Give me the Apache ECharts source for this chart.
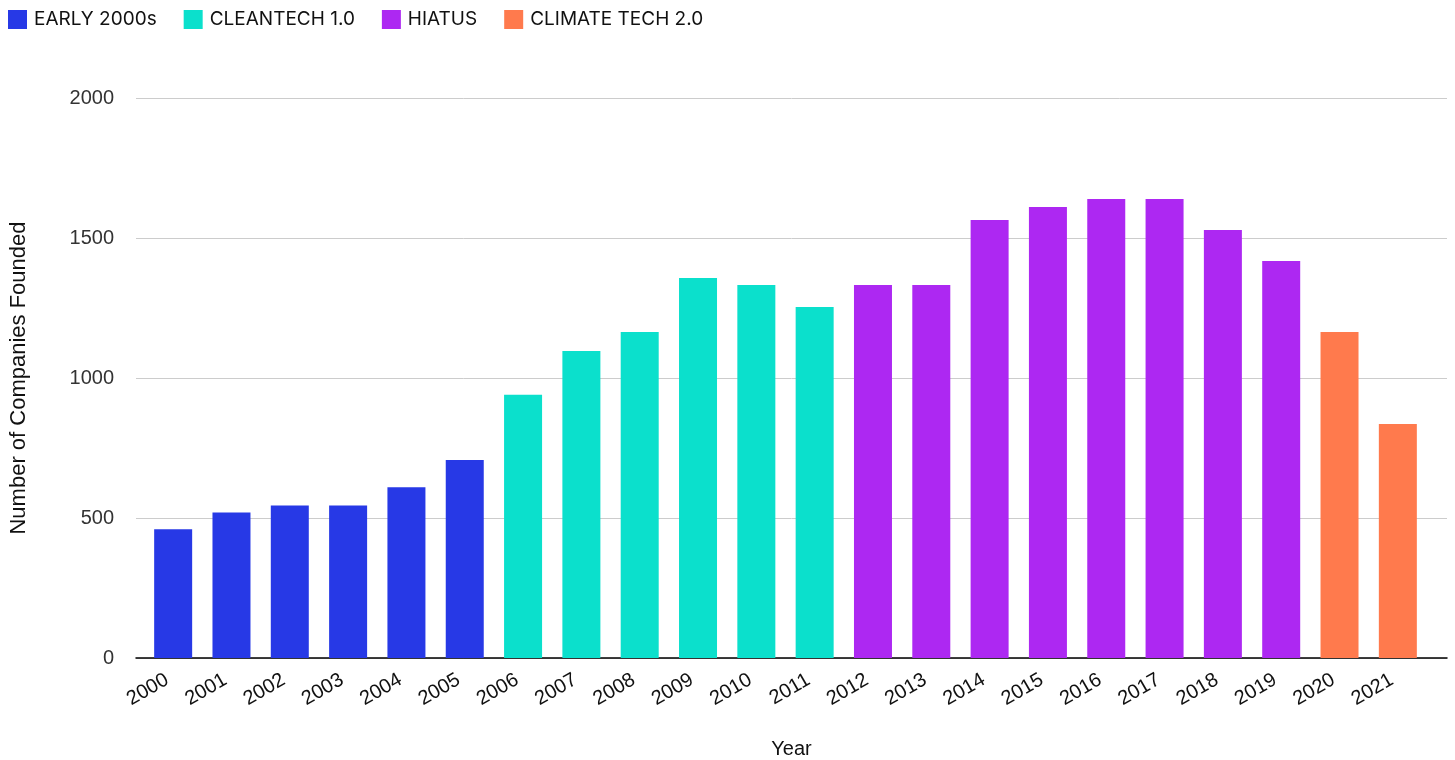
<!DOCTYPE html>
<html><head><meta charset="utf-8">
<script src="https://cdn.jsdelivr.net/npm/echarts@6/dist/echarts.min.js"></script>
<style>html,body{margin:0;padding:0;background:#fff}#c{width:1455px;height:760px}</style>
</head><body><div id="c"></div>
<script>
const years = ['2000','2001','2002','2003','2004','2005','2006','2007','2008','2009','2010','2011','2012','2013','2014','2015','2016','2017','2018','2019','2020','2021'];
const founded = [460,520,545,545,610,707,940,1096,1164,1357,1332,1254,1332,1332,1564,1611,1639,1639,1529,1418,1164,836];
const eraNames = ['EARLY 2000s','CLEANTECH 1.0','HIATUS','CLIMATE TECH 2.0'];
const eraOfYear = [0,0,0,0,0,0,1,1,1,1,1,1,2,2,2,2,2,2,2,2,3,3];
const eraColors = ['#2739E6','#0BE0CC','#AD28F2','#FF7A4D'];
const yTicks = [0,500,1000,1500,2000];

const series = eraNames.map((name, k) => ({
  name: name,
  type: 'bar',
  xAxisIndex: 1,
  yAxisIndex: 1,
  stack: 'all',
  barWidth: 38,
  itemStyle: {color: eraColors[k]},
  data: founded.map((v, i) => eraOfYear[i] === k ? v : null)
}));

const chart = echarts.init(document.getElementById('c'), null, {renderer: 'canvas'});
chart.setOption({
  animation: false,
  legend: {
    left: 3, top: 5, itemWidth: 19, itemHeight: 19, itemGap: 27,
    icon: 'rect',
    textStyle: {fontFamily: 'Inter', fontSize: 19, color: '#111', padding: [0, 0, 0, 2]},
    data: eraNames
  },
  grid: [
    {left: 136, right: 8, top: 98, bottom: 102, outerBoundsMode: 'none', containLabel: false},
    {left: 144, right: 28, top: 98, bottom: 102, outerBoundsMode: 'none', containLabel: false}
  ],
  xAxis: [
    {type: 'value', gridIndex: 0, min: 0, max: 1, axisLabel: {show: false}, axisTick: {show: false},
     splitLine: {show: false}, axisLine: {show: true, onZero: false, lineStyle: {color: '#000', width: 1.5}},
     name: 'Year', nameLocation: 'middle', nameGap: 81,
     nameTextStyle: {fontFamily: 'Liberation Sans', fontSize: 20, color: '#111'}},
    {type: 'category', gridIndex: 1, data: years, axisLine: {show: false}, axisTick: {show: false},
     axisLabel: {rotate: 30, margin: 17, padding: [0, 7, 0, 0], fontFamily: 'Liberation Sans', fontSize: 20, color: '#111', interval: 0}}
  ],
  yAxis: [
    {type: 'value', gridIndex: 0, min: 0, max: 2000, interval: 500,
     axisLine: {show: false}, axisTick: {show: false},
     axisLabel: {margin: 22, fontFamily: 'Liberation Sans', fontSize: 20, color: '#333',
       formatter: v => yTicks.includes(v) ? String(v) : ''},
     splitLine: {lineStyle: {color: '#cccccc', width: 1}},
     name: 'Number of Companies Founded', nameLocation: 'middle', nameGap: 106,
     nameTextStyle: {fontFamily: 'Liberation Sans', fontSize: 22, color: '#111'}},
    {type: 'value', gridIndex: 1, min: 0, max: 2000, show: false, splitLine: {show: false}}
  ],
  series: series
});
</script></body></html>
